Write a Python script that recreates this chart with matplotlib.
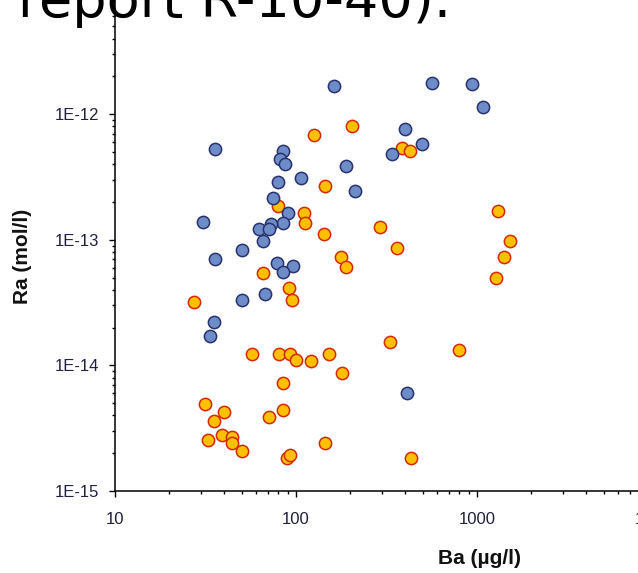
import matplotlib
matplotlib.use("Agg")
import matplotlib.pyplot as plt
from matplotlib.ticker import FixedLocator, LogLocator, NullFormatter

# ---- data (Ba in µg/l, Ra in mol/l) ----
blue_ba = [162, 564, 938, 1080, 400, 497, 339, 189, 212, 106.6, 35.7, 84.7, 81.6,
           86.9, 79.5, 74.6, 90.3, 84.7, 30.6, 62.5, 72.8, 71, 65.7, 50.3, 35.7,
           78.5, 96.2, 84.7, 50.3, 67.4, 35.2, 33.5, 410]
blue_ra = [1.68e-12, 1.77e-12, 1.74e-12, 1.14e-12, 7.6e-13, 5.8e-13, 4.8e-13, 3.9e-13,
           2.45e-13, 3.1e-13, 5.3e-13, 5.1e-13, 4.4e-13, 4.0e-13, 2.9e-13, 2.15e-13,
           1.63e-13, 1.36e-13, 1.39e-13, 1.22e-13, 1.34e-13, 1.22e-13, 9.8e-14, 8.3e-14,
           7.0e-14, 6.5e-14, 6.2e-14, 5.5e-14, 3.3e-14, 3.7e-14, 2.2e-14, 1.71e-14, 6.0e-15]

orange_ba = [125.7, 204, 385, 426, 144.6, 1306, 110.7, 112, 142.8, 291, 361, 1521, 1410,
             177, 189, 1274, 79.5, 65.7, 91.5, 95, 27.3, 330, 796, 57.1, 80.5, 92.7, 100,
             121, 152, 179.5, 84.7, 31.4, 40, 35.2, 71, 84.7, 32.6, 39, 44.3, 44.3, 50.3,
             144.6, 89.2, 92.7, 431]
orange_ra = [6.8e-13, 8.0e-13, 5.4e-13, 5.1e-13, 2.7e-13, 1.69e-13, 1.63e-13, 1.36e-13,
             1.11e-13, 1.26e-13, 8.6e-14, 9.8e-14, 7.3e-14, 7.3e-14, 6.1e-14, 5.0e-14,
             1.86e-13, 5.4e-14, 4.1e-14, 3.3e-14, 3.2e-14, 1.53e-14, 1.33e-14, 1.23e-14,
             1.23e-14, 1.23e-14, 1.10e-14, 1.09e-14, 1.23e-14, 8.7e-15, 7.2e-15, 4.9e-15,
             4.25e-15, 3.6e-15, 3.9e-15, 4.4e-15, 2.55e-15, 2.8e-15, 2.7e-15, 2.4e-15,
             2.08e-15, 2.4e-15, 1.83e-15, 1.94e-15, 1.83e-15]

x_ticks = [10, 100, 1000, 10000]
x_tick_labels = ["10", "100", "1000", "10000"]
y_ticks = [1e-15, 1e-14, 1e-13, 1e-12]
y_tick_labels = ["1E-15", "1E-14", "1E-13", "1E-12"]

W, H = 638, 573
fig = plt.figure(figsize=(W / 100, H / 100), dpi=100)
# axes: x 10..1e5, y 1e-15..1e-11 (partially outside the visible figure)
x0, x_dec = 115, 181.0
y0, y_dec = 491, 125.6
ax = fig.add_axes([x0 / W, (H - y0) / H, 4 * x_dec / W, 4 * y_dec / H])
ax.set_xscale("log")
ax.set_yscale("log")
ax.set_xlim(10, 1e5)
ax.set_ylim(1e-15, 1e-11)

ax.scatter(orange_ba, orange_ra, s=78, c="#ffc000", edgecolors="#d42800",
           linewidths=1.1, zorder=3)
ax.scatter(blue_ba, blue_ra, s=78, c="#6e8cc8", edgecolors="#28326e",
           linewidths=1.1, zorder=4)

for side in ("top", "right"):
    ax.spines[side].set_visible(False)
for side in ("left", "bottom"):
    ax.spines[side].set_linewidth(1.1)

ax.xaxis.set_major_locator(FixedLocator(x_ticks))
ax.set_xticklabels(x_tick_labels)
ax.yaxis.set_major_locator(FixedLocator(y_ticks))
ax.set_yticklabels(y_tick_labels)
ax.xaxis.set_minor_locator(LogLocator(base=10, subs=range(2, 10)))
ax.yaxis.set_minor_locator(LogLocator(base=10, subs=range(2, 10)))
ax.xaxis.set_minor_formatter(NullFormatter())
ax.yaxis.set_minor_formatter(NullFormatter())

lab_col = "#202040"
ax.tick_params(axis="both", which="major", length=4, width=1.0, direction="out",
               labelsize=12, labelcolor=lab_col)
ax.tick_params(axis="both", which="minor", length=2.5, width=1.0, direction="out")
ax.tick_params(axis="x", which="major", pad=11)
ax.tick_params(axis="y", which="major", pad=7.5)
for t in ax.get_xticklabels() + ax.get_yticklabels():
    t.set_fontfamily(["Liberation Sans", "DejaVu Sans"])

ax.set_xlabel("Ba (µg/l)", fontsize=15, fontweight="bold",
              family=["Liberation Sans", "DejaVu Sans"], color="#111111")
ax.set_ylabel("Ra (mol/l)", fontsize=15, fontweight="bold",
              family=["Liberation Sans", "DejaVu Sans"], color="#111111")
ax.xaxis.label.set_verticalalignment("center")
ax.yaxis.label.set_verticalalignment("center")
ax.xaxis.set_label_coords(479 / W, 1 - 558 / H, transform=fig.transFigure)
ax.yaxis.set_label_coords(23 / W, 1 - 256 / H, transform=fig.transFigure)

# cut-off text of the surrounding document at the top
fig.text(18 / W, 1 - 17 / H, "report R-10-40).", fontsize=39,
         family="DejaVu Sans", color="black", ha="left", va="baseline")

fig.savefig("out.png", dpi=100)
